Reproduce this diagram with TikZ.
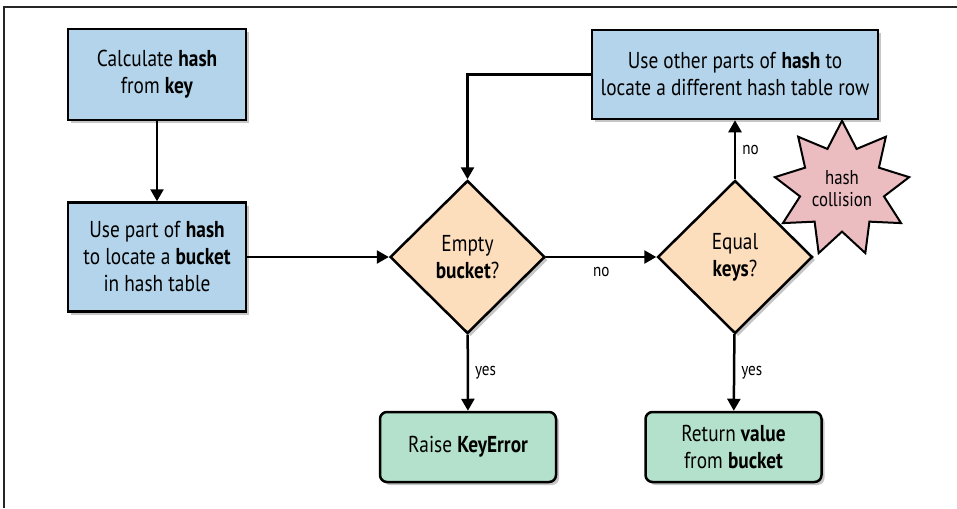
\documentclass[tikz,border=0pt]{standalone}
\usepackage{fontspec}
\setmainfont[FakeStretch=0.84]{PT Sans}
\usepackage{xcolor}
\usepackage{tikz}
\usetikzlibrary{calc}
\usetikzlibrary{arrows.meta}
\usetikzlibrary{shapes.geometric}
\usetikzlibrary{shadows}
\definecolor{stepblue}{HTML}{B3D4EA}
\definecolor{askorange}{HTML}{FCDDBC}
\definecolor{endgreen}{HTML}{B4E1CC}
\definecolor{clashpink}{HTML}{EBBCC0}
\tikzstyle{stepbox}=[black, draw=black, line width=2.5pt, shape=rectangle, fill=stepblue, align=center, inner sep=0pt, font=\fontsize{23}{27}\selectfont, drop shadow={shadow xshift=3pt, shadow yshift=-3pt, opacity=0.45}]
\tikzstyle{asknode}=[black, draw=black, line width=2.5pt, shape=diamond, fill=askorange, align=center, inner sep=0pt, minimum width=155pt, minimum height=153pt, font=\fontsize{23}{27}\selectfont, drop shadow={shadow xshift=3pt, shadow yshift=-3pt, opacity=0.45}]
\tikzstyle{endbox}=[black, draw=black, line width=2.5pt, shape=rectangle, rounded corners=7pt, fill=endgreen, align=center, inner sep=0pt, minimum width=176pt, minimum height=70pt, font=\fontsize{23}{27}\selectfont, drop shadow={shadow xshift=3pt, shadow yshift=-3pt, opacity=0.45}]
\tikzstyle{clashnode}=[black, draw=black, line width=2pt, shape=star, star points=9, star point ratio=1.6, fill=clashpink, align=center, inner sep=0pt, minimum size=132pt, font=\fontsize{20}{22}\selectfont]
\tikzstyle{flow}=[-{Triangle[length=12pt, width=13pt]}, line width=2.5pt, color=black]
\tikzstyle{answer}=[black, inner sep=0pt, font=\fontsize{18}{20}\selectfont]

\begin{document}
\begin{tikzpicture}[x=1pt, y=-1pt]
\useasboundingbox (0,0) rectangle (957,508);
\draw[line width=1.5pt, color=black!85] (957,7) -- (4,7) -- (4,508);

\node [stepbox, minimum width=178pt, minimum height=91pt] (calchash) at (157,74.5) {Calculate \textbf{hash}\\from \textbf{key}};
\node [stepbox, minimum width=178pt, minimum height=109pt] (findbucket) at (157,257) {Use part of \textbf{hash}\\to locate a \textbf{bucket}\\in hash table};
\node [stepbox, minimum width=286pt, minimum height=89pt] (probe) at (735,74.5) {Use other parts of \textbf{hash} to\\locate a different hash table row};
\node [clashnode] (collision) at (842,189) {hash\\collision};
\node [asknode] (emptybucket) at (467.5,257) {Empty\\\textbf{bucket}?};
\node [asknode] (equalkeys) at (735,257) {Equal\\\textbf{keys}?};
\node [endbox] (keyerror) at (468,447) {Raise \textbf{KeyError}};
\node [endbox] (retvalue) at (733.5,447) {Return \textbf{value}\\from \textbf{bucket}};

\draw[flow] (calchash) -- (findbucket);
\draw[flow] (findbucket) -- (emptybucket);
\draw[flow] (emptybucket) -- node[answer, below=9pt] {no} (equalkeys);
\draw[flow] (equalkeys) -- node[answer, right=6pt] {no} (probe);
\draw[flow] (probe.west) -| (emptybucket.north);
\draw[flow] (emptybucket) -- node[answer, right=6pt] {yes} (keyerror);
\draw[flow] (equalkeys) -- node[answer, right=6pt] {yes} (retvalue);
\end{tikzpicture}
\end{document}
